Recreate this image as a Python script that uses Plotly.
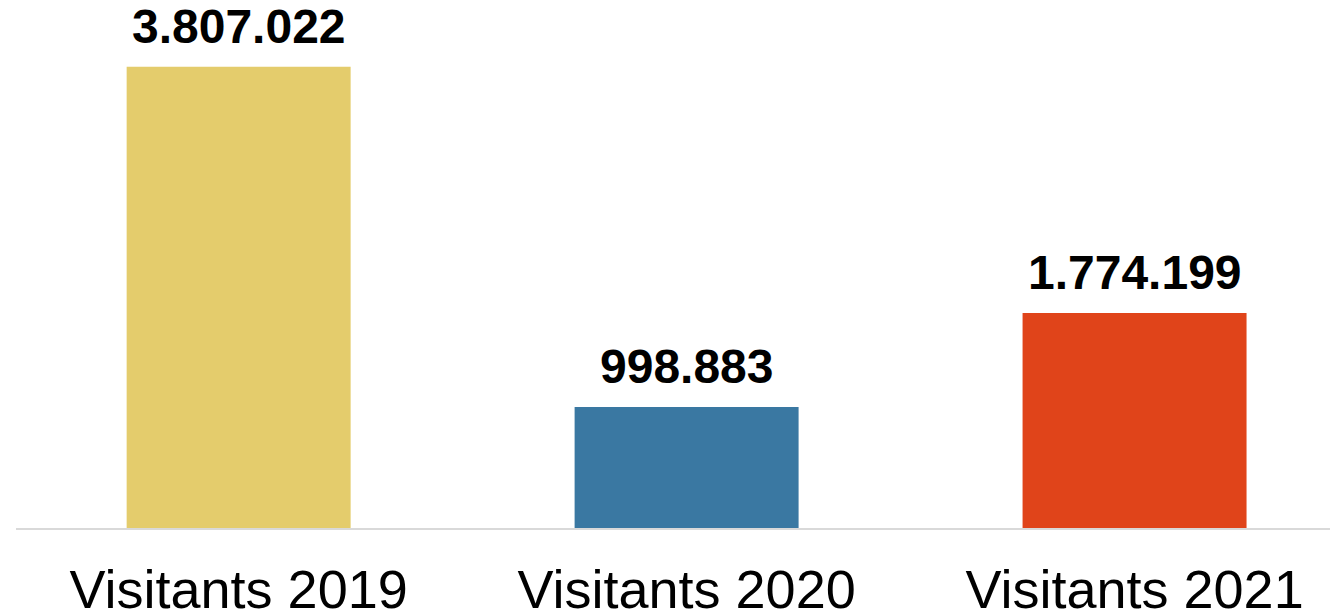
import plotly.graph_objects as go

categories = ["Visitants 2019", "Visitants 2020", "Visitants 2021"]
values = [3807022, 998883, 1774199]
value_labels = ["3.807.022", "998.883", "1.774.199"]
colors = ["#E4CC6C", "#3A78A2", "#E0441A"]

fig = go.Figure()
fig.add_trace(go.Bar(
    x=categories, y=values, marker=dict(color=colors, line=dict(width=0)),
    width=0.5, hoverinfo="skip",
))

for c, v, t in zip(categories, values, value_labels):
    fig.add_annotation(x=c, y=v, text="<b>%s</b>" % t, showarrow=False,
                       yanchor="bottom", yshift=12,
                       font=dict(family="Liberation Sans, Arial, sans-serif", size=48, color="#000000"))

fig.update_layout(
    width=1338, height=606,
    margin=dict(l=8, r=0, t=0, b=86, autoexpand=False),
    paper_bgcolor="white", plot_bgcolor="white",
    showlegend=False,
    font=dict(family="Liberation Sans, Arial, sans-serif", color="#000000"),
)
fig.update_xaxes(
    range=[-0.497, 2.472], showgrid=False, zeroline=False, automargin=False,
    showline=True, linecolor="#D9D9D9", linewidth=2,
    ticks="", tickfont=dict(size=54, color="#000000"), ticklabelstandoff=13,
)
fig.update_yaxes(
    range=[0, 4291456], showgrid=False, zeroline=False, showticklabels=False,
    showline=False, automargin=False,
)

fig.write_html("out.html")
